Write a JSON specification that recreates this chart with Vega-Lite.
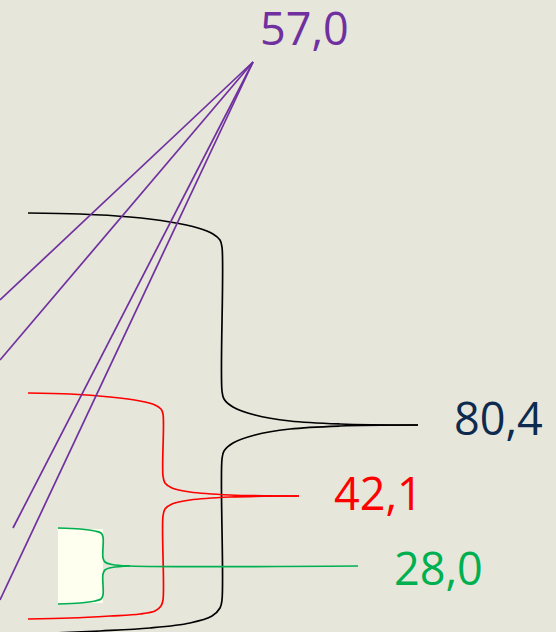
{
  "$schema": "https://vega.github.io/schema/vega-lite/v6.json",
  "width": 556,
  "height": 632,
  "padding": 0,
  "autosize": {"type": "none"},
  "background": "#e6e6da",
  "config": {"view": {"stroke": null}},
  "datasets": {
    "paths": [
      {"s": "80,4", "g": "b1", "o": 1, "x": 28, "y": 213},
      {"s": "80,4", "g": "b1", "o": 2, "x": 80, "y": 214},
      {"s": "80,4", "g": "b1", "o": 3, "x": 130, "y": 217},
      {"s": "80,4", "g": "b1", "o": 4, "x": 170, "y": 222},
      {"s": "80,4", "g": "b1", "o": 5, "x": 198, "y": 228},
      {"s": "80,4", "g": "b1", "o": 6, "x": 213, "y": 234},
      {"s": "80,4", "g": "b1", "o": 7, "x": 220, "y": 240},
      {"s": "80,4", "g": "b1", "o": 8, "x": 222, "y": 247},
      {"s": "80,4", "g": "b1", "o": 9, "x": 222, "y": 391},
      {"s": "80,4", "g": "b1", "o": 10, "x": 224, "y": 399},
      {"s": "80,4", "g": "b1", "o": 11, "x": 233, "y": 407},
      {"s": "80,4", "g": "b1", "o": 12, "x": 255, "y": 415},
      {"s": "80,4", "g": "b1", "o": 13, "x": 290, "y": 421},
      {"s": "80,4", "g": "b1", "o": 14, "x": 340, "y": 424},
      {"s": "80,4", "g": "b1", "o": 15, "x": 418, "y": 425},
      {"s": "80,4", "g": "b2", "o": 1, "x": 418, "y": 425},
      {"s": "80,4", "g": "b2", "o": 2, "x": 340, "y": 426},
      {"s": "80,4", "g": "b2", "o": 3, "x": 290, "y": 429},
      {"s": "80,4", "g": "b2", "o": 4, "x": 255, "y": 435},
      {"s": "80,4", "g": "b2", "o": 5, "x": 233, "y": 443},
      {"s": "80,4", "g": "b2", "o": 6, "x": 224, "y": 451},
      {"s": "80,4", "g": "b2", "o": 7, "x": 222, "y": 459},
      {"s": "80,4", "g": "b2", "o": 8, "x": 222, "y": 600},
      {"s": "80,4", "g": "b2", "o": 9, "x": 220, "y": 608},
      {"s": "80,4", "g": "b2", "o": 10, "x": 212, "y": 616},
      {"s": "80,4", "g": "b2", "o": 11, "x": 190, "y": 623},
      {"s": "80,4", "g": "b2", "o": 12, "x": 150, "y": 628},
      {"s": "80,4", "g": "b2", "o": 13, "x": 100, "y": 631},
      {"s": "80,4", "g": "b2", "o": 14, "x": 30, "y": 634},

      {"s": "42,1", "g": "r1", "o": 1, "x": 28, "y": 393},
      {"s": "42,1", "g": "r1", "o": 2, "x": 70, "y": 394},
      {"s": "42,1", "g": "r1", "o": 3, "x": 110, "y": 397},
      {"s": "42,1", "g": "r1", "o": 4, "x": 140, "y": 401},
      {"s": "42,1", "g": "r1", "o": 5, "x": 155, "y": 405},
      {"s": "42,1", "g": "r1", "o": 6, "x": 161, "y": 409},
      {"s": "42,1", "g": "r1", "o": 7, "x": 163, "y": 414},
      {"s": "42,1", "g": "r1", "o": 8, "x": 163, "y": 476},
      {"s": "42,1", "g": "r1", "o": 9, "x": 165, "y": 483},
      {"s": "42,1", "g": "r1", "o": 10, "x": 172, "y": 488},
      {"s": "42,1", "g": "r1", "o": 11, "x": 190, "y": 492},
      {"s": "42,1", "g": "r1", "o": 12, "x": 230, "y": 495},
      {"s": "42,1", "g": "r1", "o": 13, "x": 299, "y": 496},
      {"s": "42,1", "g": "r2", "o": 1, "x": 299, "y": 496},
      {"s": "42,1", "g": "r2", "o": 2, "x": 230, "y": 497},
      {"s": "42,1", "g": "r2", "o": 3, "x": 190, "y": 500},
      {"s": "42,1", "g": "r2", "o": 4, "x": 172, "y": 504},
      {"s": "42,1", "g": "r2", "o": 5, "x": 165, "y": 509},
      {"s": "42,1", "g": "r2", "o": 6, "x": 163, "y": 516},
      {"s": "42,1", "g": "r2", "o": 7, "x": 163, "y": 600},
      {"s": "42,1", "g": "r2", "o": 8, "x": 161, "y": 606},
      {"s": "42,1", "g": "r2", "o": 9, "x": 155, "y": 611},
      {"s": "42,1", "g": "r2", "o": 10, "x": 140, "y": 614},
      {"s": "42,1", "g": "r2", "o": 11, "x": 110, "y": 616},
      {"s": "42,1", "g": "r2", "o": 12, "x": 70, "y": 618},
      {"s": "42,1", "g": "r2", "o": 13, "x": 28, "y": 619},

      {"s": "28,0", "g": "g1", "o": 1, "x": 58, "y": 528},
      {"s": "28,0", "g": "g1", "o": 2, "x": 80, "y": 529},
      {"s": "28,0", "g": "g1", "o": 3, "x": 95, "y": 531},
      {"s": "28,0", "g": "g1", "o": 4, "x": 101, "y": 533},
      {"s": "28,0", "g": "g1", "o": 5, "x": 103, "y": 537},
      {"s": "28,0", "g": "g1", "o": 6, "x": 103, "y": 558},
      {"s": "28,0", "g": "g1", "o": 7, "x": 105, "y": 562},
      {"s": "28,0", "g": "g1", "o": 8, "x": 112, "y": 564.5},
      {"s": "28,0", "g": "g1", "o": 9, "x": 130, "y": 566},
      {"s": "28,0", "g": "g1", "o": 10, "x": 358, "y": 566},
      {"s": "28,0", "g": "g2", "o": 1, "x": 130, "y": 566},
      {"s": "28,0", "g": "g2", "o": 2, "x": 112, "y": 567.5},
      {"s": "28,0", "g": "g2", "o": 3, "x": 105, "y": 570},
      {"s": "28,0", "g": "g2", "o": 4, "x": 103, "y": 574},
      {"s": "28,0", "g": "g2", "o": 5, "x": 103, "y": 595},
      {"s": "28,0", "g": "g2", "o": 6, "x": 101, "y": 599},
      {"s": "28,0", "g": "g2", "o": 7, "x": 95, "y": 601},
      {"s": "28,0", "g": "g2", "o": 8, "x": 80, "y": 603},
      {"s": "28,0", "g": "g2", "o": 9, "x": 58, "y": 604},

      {"s": "57,0", "g": "p1", "o": 1, "x": 253, "y": 62},
      {"s": "57,0", "g": "p1", "o": 2, "x": 0, "y": 300},
      {"s": "57,0", "g": "p2", "o": 1, "x": 253, "y": 62},
      {"s": "57,0", "g": "p2", "o": 2, "x": 0, "y": 360},
      {"s": "57,0", "g": "p3", "o": 1, "x": 253, "y": 62},
      {"s": "57,0", "g": "p3", "o": 2, "x": 13, "y": 528},
      {"s": "57,0", "g": "p4", "o": 1, "x": 253, "y": 62},
      {"s": "57,0", "g": "p4", "o": 2, "x": 0, "y": 600}
    ],
    "labels": [
      {"s": "57,0", "x": 260, "y": 45},
      {"s": "80,4", "x": 454, "y": 435},
      {"s": "42,1", "x": 334, "y": 510},
      {"s": "28,0", "x": 394, "y": 585}
    ],
    "fill": [
      {"x": 58, "x2": 103, "y": 529, "y2": 603}
    ]
  },
  "layer": [
    {
      "data": {"name": "fill"},
      "mark": {"type": "rect", "color": "#fffff0", "clip": true},
      "encoding": {
        "x": {"field": "x", "type": "quantitative", "scale": {"domain": [0, 556]}, "axis": null},
        "x2": {"field": "x2"},
        "y": {"field": "y", "type": "quantitative", "scale": {"domain": [0, 632], "reverse": true}, "axis": null},
        "y2": {"field": "y2"}
      }
    },
    {
      "data": {"name": "paths"},
      "mark": {"type": "line", "strokeWidth": 1.7, "clip": true, "interpolate": "catmull-rom"},
      "encoding": {
        "x": {"field": "x", "type": "quantitative", "scale": {"domain": [0, 556]}, "axis": null},
        "y": {"field": "y", "type": "quantitative", "scale": {"domain": [0, 632], "reverse": true}, "axis": null},
        "detail": {"field": "g"},
        "order": {"field": "o"},
        "color": {"field": "s", "type": "nominal", "legend": null,
          "scale": {"domain": ["80,4", "42,1", "28,0", "57,0"], "range": ["#000000", "#ff0000", "#00b050", "#7030a0"]}}
      }
    },
    {
      "data": {"name": "labels"},
      "mark": {"type": "text", "align": "left", "baseline": "alphabetic", "font": "Open Sans", "fontSize": 45},
      "encoding": {
        "x": {"field": "x", "type": "quantitative", "scale": {"domain": [0, 556]}, "axis": null},
        "y": {"field": "y", "type": "quantitative", "scale": {"domain": [0, 632], "reverse": true}, "axis": null},
        "text": {"field": "s"},
        "color": {"field": "s", "type": "nominal", "legend": null,
          "scale": {"domain": ["80,4", "42,1", "28,0", "57,0"], "range": ["#0e2a4e", "#ff0000", "#00b050", "#7030a0"]}}
      }
    }
  ],
  "resolve": {"scale": {"color": "independent"}}
}
